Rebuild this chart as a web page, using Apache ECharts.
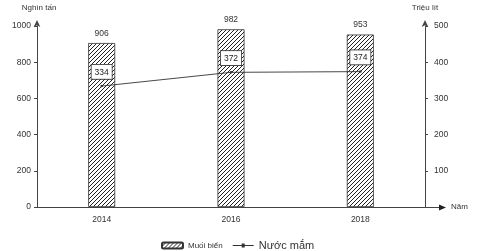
<!DOCTYPE html>
<html>
<head>
<meta charset="utf-8">
<script src="https://cdn.jsdelivr.net/npm/echarts@6/dist/echarts.min.js"></script>
<style>html,body{margin:0;padding:0;background:#fff;}#c{width:485px;height:251px;}</style>
</head>
<body>
<div id="c"></div>
<script>
var categories = ['2014', '2016', '2018'];
var muoiBien = [906, 982, 953];
var nuocMam = [334, 372, 374];
var leftTicks = [0, 200, 400, 600, 800, 1000];
var rightTicks = [0, 100, 200, 300, 400, 500];

var pc = document.createElement('canvas');
pc.width = 4; pc.height = 4;
var g = pc.getContext('2d');
g.fillStyle = '#fff'; g.fillRect(0, 0, 4, 4);
g.strokeStyle = '#222'; g.lineWidth = 1;
g.beginPath(); g.moveTo(-1, 5); g.lineTo(5, -1); g.stroke();
g.beginPath(); g.moveTo(-1, 1); g.lineTo(1, -1); g.stroke();
g.beginPath(); g.moveTo(3, 5); g.lineTo(5, 3); g.stroke();

var FONT = 'Liberation Sans';
var TXT = '#333';
var AX = '#444';
var NUM = 8.5;
var chart = echarts.init(document.getElementById('c'), null, {renderer: 'canvas'});
chart.setOption({
  animation: false,
  textStyle: {fontFamily: FONT},
  grid: {left: 37, right: 60, top: 26, bottom: 44},
  xAxis: {
    type: 'category', data: categories,
    axisLine: {lineStyle: {color: AX, width: 1}},
    axisTick: {alignWithLabel: true, length: 3, lineStyle: {color: AX}},
    axisLabel: {color: TXT, fontSize: NUM, margin: 8, fontFamily: FONT}
  },
  yAxis: [{
    type: 'value', min: 0, max: 1000, interval: 200,
    name: 'Nghìn tấn', nameLocation: 'end', nameGap: 14,
    nameTextStyle: {color: TXT, fontSize: 8, fontFamily: FONT, align: 'center', padding: [0, 0, 0, 4]},
    axisLine: {show: true, lineStyle: {color: AX}, symbol: ['none', 'arrow'], symbolSize: [5, 7], symbolOffset: [0, 6]},
    axisTick: {show: true, length: 3, lineStyle: {color: AX}},
    axisLabel: {color: TXT, fontSize: NUM, margin: 6, fontFamily: FONT,
      formatter: function (v) { return leftTicks.indexOf(v) >= 0 ? String(v) : ''; }},
    splitLine: {show: false}
  }, {
    type: 'value', min: 0, max: 500, interval: 100, position: 'right',
    name: 'Triệu lít', nameLocation: 'end', nameGap: 14,
    nameTextStyle: {color: TXT, fontSize: 8, fontFamily: FONT, align: 'center'},
    axisLine: {show: true, lineStyle: {color: AX}, symbol: ['none', 'arrow'], symbolSize: [5, 7], symbolOffset: [0, 6]},
    axisTick: {show: true, length: 3, inside: false, lineStyle: {color: AX}},
    axisLabel: {color: TXT, fontSize: NUM, margin: 9, fontFamily: FONT,
      formatter: function (v) { return (v > 0 && rightTicks.indexOf(v) >= 0) ? String(v) : ''; }},
    splitLine: {show: false}
  }],
  legend: {
    left: 156, top: 235, itemGap: 10, itemWidth: 21, itemHeight: 6,
    textStyle: {color: TXT, fontFamily: FONT},
    data: [
      {name: 'Muối biển', textStyle: {fontSize: 8}},
      {name: 'Nước mắm', textStyle: {fontSize: 11}, icon: 'path://M0,4.5 L21,4.5 L21,5.5 L0,5.5 Z M9,3 L12,3 L12,7 L9,7 Z'}
    ]
  },
  graphic: [
    {type: 'line', shape: {x1: 425, y1: 207.5, x2: 441, y2: 207.5}, style: {stroke: AX, lineWidth: 1}},
    {type: 'polygon', shape: {points: [[439, 204.5], [446, 207.5], [439, 210.5]]}, style: {fill: '#222'}},
    {type: 'text', left: 451, top: 203, style: {text: 'Năm', fill: TXT, fontSize: 8, fontFamily: FONT}}
  ],
  series: [{
    name: 'Muối biển', type: 'bar', data: muoiBien, barWidth: 27, yAxisIndex: 0,
    itemStyle: {color: {image: pc, repeat: 'repeat'}, borderColor: '#333', borderWidth: 0.8},
    label: {show: true, position: 'top', distance: 5, color: TXT, fontSize: NUM, fontFamily: FONT}
  }, {
    name: 'Nước mắm', type: 'line', data: nuocMam, yAxisIndex: 1,
    symbol: 'circle', symbolSize: 2.5, showSymbol: true,
    lineStyle: {color: '#333', width: 0.9}, itemStyle: {color: '#333'},
    label: {show: true, position: 'top', distance: 6, color: '#222', fontSize: NUM, fontFamily: FONT,
      backgroundColor: '#fff', borderColor: '#333', borderWidth: 0.8, padding: [3, 3, 2, 3]},
    z: 5
  }]
});
</script>
</body>
</html>
